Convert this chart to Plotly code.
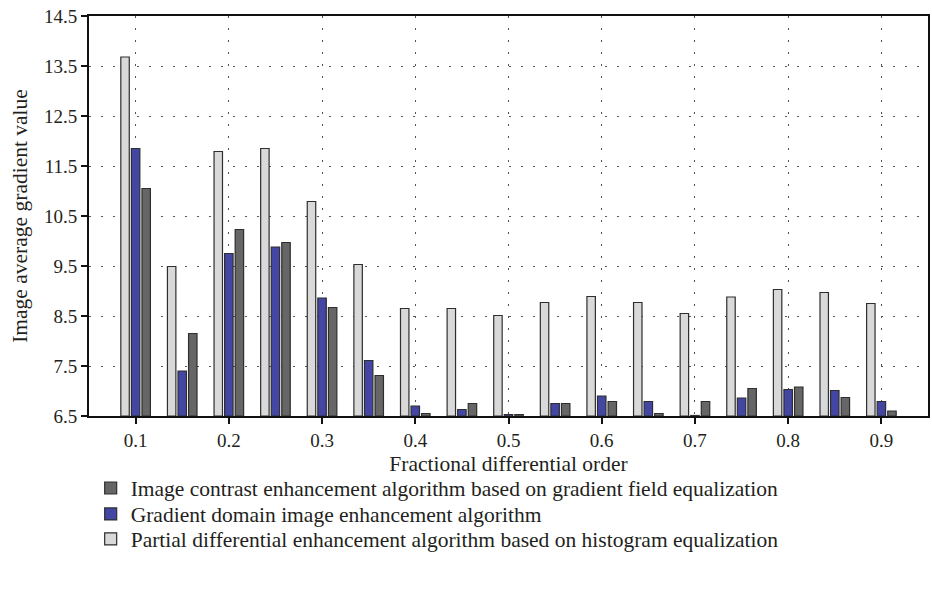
import plotly.graph_objects as go

orders = [0.1, 0.15, 0.2, 0.25, 0.3, 0.35, 0.4, 0.45, 0.5, 0.55, 0.6, 0.65, 0.7, 0.75, 0.8, 0.85, 0.9]
partial_hist = [13.68, 9.49, 11.79, 11.85, 10.79, 9.53, 8.65, 8.65, 8.51, 8.77, 8.89, 8.77, 8.55, 8.88, 9.03, 8.97, 8.75]
gradient_domain = [11.85, 7.40, 9.75, 9.88, 8.86, 7.61, 6.70, 6.63, 6.53, 6.75, 6.90, 6.79, 6.51, 6.86, 7.03, 7.01, 6.79]
contrast_field = [11.05, 8.15, 10.23, 9.97, 8.67, 7.31, 6.55, 6.75, 6.53, 6.75, 6.79, 6.55, 6.79, 7.05, 7.08, 6.87, 6.60]

x_ticks = [0.1, 0.2, 0.3, 0.4, 0.5, 0.6, 0.7, 0.8, 0.9]
x_tick_labels = ["0.1", "0.2", "0.3", "0.4", "0.5", "0.6", "0.7", "0.8", "0.9"]
y_ticks = [6.5, 7.5, 8.5, 9.5, 10.5, 11.5, 12.5, 13.5, 14.5]
y_tick_labels = ["6.5", "7.5", "8.5", "9.5", "10.5", "11.5", "12.5", "13.5", "14.5"]
y_base = 6.5

names = [
    "Partial differential enhancement algorithm based on histogram equalization",
    "Gradient domain image enhancement algorithm",
    "Image contrast enhancement algorithm based on gradient field equalization",
]
colors = ["#d9d9d9", "#4347a3", "#666666"]
series = [partial_hist, gradient_domain, contrast_field]
legend_ids = ["legend3", "legend2", "legend"]

FONT = "Liberation Serif"
TXT = "#231f20"

fig = go.Figure()
for name, col, vals, lg in zip(names, colors, series, legend_ids):
    fig.add_trace(go.Bar(
        x=orders, y=[v - y_base for v in vals], base=y_base, name=name,
        legend=lg,
        marker=dict(color=col, line=dict(color="#2e2e2e", width=1.2)),
    ))

leg_common = dict(orientation="v", x=0.002, xanchor="left", yanchor="middle",
                  font=dict(family=FONT, size=21.5, color=TXT),
                  bgcolor="rgba(0,0,0,0)")

fig.update_layout(
    width=932, height=595,
    margin=dict(l=89, r=2, t=16, b=179),
    paper_bgcolor="white", plot_bgcolor="white",
    barmode="group", bargap=0.32, bargroupgap=0.2,
    font=dict(family=FONT, size=19, color=TXT),
    showlegend=True,
    legend=dict(y=-0.18, **leg_common),
    legend2=dict(y=-0.245, **leg_common),
    legend3=dict(y=-0.3075, **leg_common),
)
fig.update_xaxes(
    range=[0.05, 0.95], tickvals=x_ticks, ticktext=x_tick_labels,
    showgrid=True, gridcolor="#555555", gridwidth=1, griddash="2px,10px",
    showline=True, linecolor="#111111", linewidth=2, mirror=True,
    ticks="outside", ticklen=6, tickwidth=1.5, tickcolor="#111111",
    tickfont=dict(size=19), ticklabeloverflow="allow",
    title=dict(text="Fractional differential order", standoff=6, font=dict(size=21.5)),
    zeroline=False,
)
fig.update_yaxes(
    range=[6.5, 14.5], tickvals=y_ticks, ticktext=y_tick_labels,
    showgrid=True, gridcolor="#555555", gridwidth=1, griddash="2px,10px",
    showline=True, linecolor="#111111", linewidth=2, mirror=True,
    ticks="outside", ticklen=6, tickwidth=1.5, tickcolor="#111111",
    tickfont=dict(size=19), ticklabeloverflow="allow",
    title=dict(text="Image average gradient value", standoff=10, font=dict(size=21.5)),
    zeroline=False,
)

fig.write_html("out.html", config={"displayModeBar": False},
               post_script="document.body.style.margin='0';")
